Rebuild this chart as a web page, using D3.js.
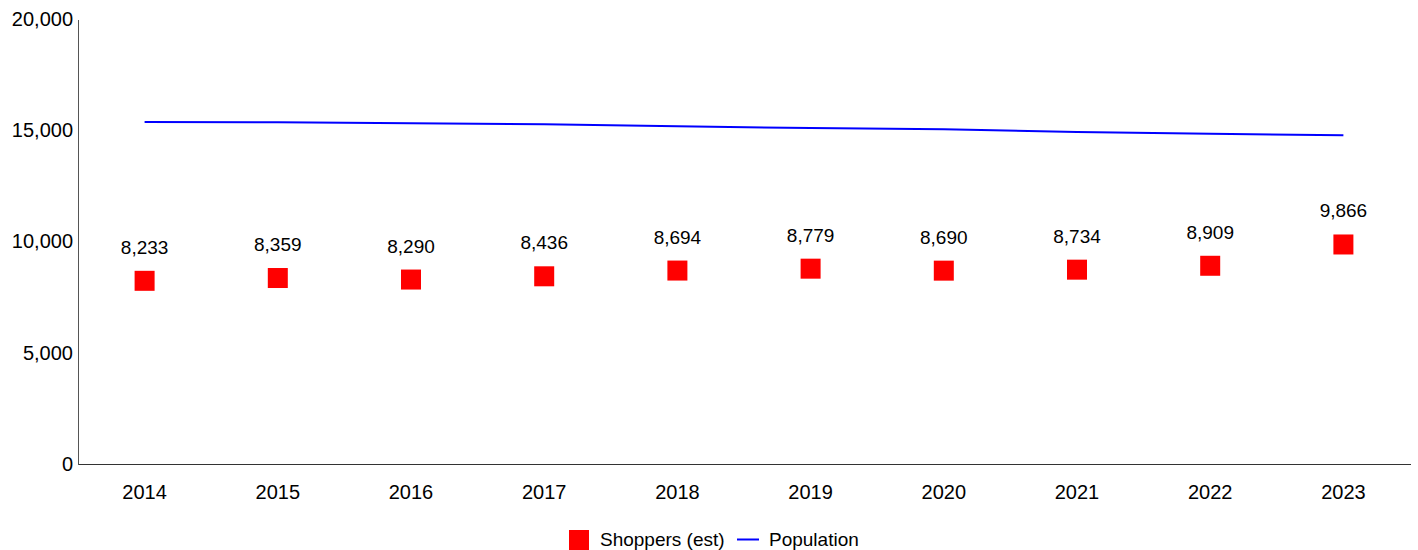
<!DOCTYPE html>
<html>
<head>
<meta charset="utf-8">
<script src="https://cdn.jsdelivr.net/npm/d3@7"></script>
<style>
  html, body { margin: 0; padding: 0; background: #fff; }
  svg { display: block; font-family: "Liberation Sans", Arial, sans-serif; }
</style>
</head>
<body>
<svg id="chart" width="1418" height="550"></svg>
<script>
// Yearly shoppers estimate vs. population
const years = ["2014", "2015", "2016", "2017", "2018", "2019", "2020", "2021", "2022", "2023"];
const shoppers = [8233, 8359, 8290, 8436, 8694, 8779, 8690, 8734, 8909, 9866];
const population = [15371, 15357, 15312, 15267, 15178, 15101, 15043, 14921, 14845, 14773];
const yTicks = [0, 5000, 10000, 15000, 20000];
const seriesNames = ["Shoppers (est)", "Population"];

const svg = d3.select("#chart");
const margin = { left: 78, right: 8, top: 19, bottom: 86 };
const W = 1418, H = 550;

const x = d3.scaleBand()
  .domain(years)
  .range([margin.left, W - margin.right]);

const y = d3.scaleLinear()
  .domain([0, 20000])
  .range([H - margin.bottom, margin.top]);

const fmt = d3.format(",");

// Y axis
const yAxis = svg.append("g")
  .attr("transform", `translate(${margin.left},0)`)
  .call(d3.axisLeft(y).tickValues(yTicks).tickFormat(fmt).tickSize(0).tickPadding(5));
yAxis.select(".domain").attr("stroke", "#555").attr("shape-rendering", "crispEdges");
yAxis.selectAll("text").attr("font-size", 20).attr("fill", "#000")
  .attr("font-family", "Liberation Sans, Arial, sans-serif");

// X axis
const xAxis = svg.append("g")
  .attr("transform", `translate(0,${y(0)})`)
  .call(d3.axisBottom(x).tickSize(0).tickPadding(21));
xAxis.select(".domain").attr("stroke", "#333").attr("shape-rendering", "crispEdges");
xAxis.selectAll("text").attr("font-size", 20).attr("fill", "#000")
  .attr("font-family", "Liberation Sans, Arial, sans-serif");

const cx = d => x(d) + x.bandwidth() / 2;

// Population line
const line = d3.line()
  .x((d, i) => cx(years[i]))
  .y(d => y(d));
svg.append("path")
  .datum(population)
  .attr("fill", "none")
  .attr("stroke", "#0000ff")
  .attr("stroke-width", 2)
  .attr("d", line);

// Shoppers squares
const sq = 20;
svg.append("g").selectAll("rect")
  .data(shoppers)
  .join("rect")
  .attr("x", (d, i) => cx(years[i]) - sq / 2)
  .attr("y", d => y(d) - sq / 2)
  .attr("width", sq)
  .attr("height", sq)
  .attr("fill", "#ff0000");

// Value labels
svg.append("g").selectAll("text")
  .data(shoppers)
  .join("text")
  .attr("x", (d, i) => cx(years[i]))
  .attr("y", d => y(d) - 27)
  .attr("text-anchor", "middle")
  .attr("font-size", 19)
  .attr("fill", "#000")
  .text(d => fmt(d));

// Legend
const lg = svg.append("g");
lg.append("rect").attr("x", 569).attr("y", 530).attr("width", 20).attr("height", 20).attr("fill", "#ff0000");
lg.append("text").attr("x", 600).attr("y", 546).attr("font-size", 19).attr("fill", "#000").text(seriesNames[0]);
lg.append("line").attr("x1", 737).attr("x2", 759).attr("y1", 539.5).attr("y2", 539.5)
  .attr("stroke", "#0000ff").attr("stroke-width", 2);
lg.append("text").attr("x", 769).attr("y", 546).attr("font-size", 19).attr("fill", "#000").text(seriesNames[1]);
</script>
</body>
</html>
